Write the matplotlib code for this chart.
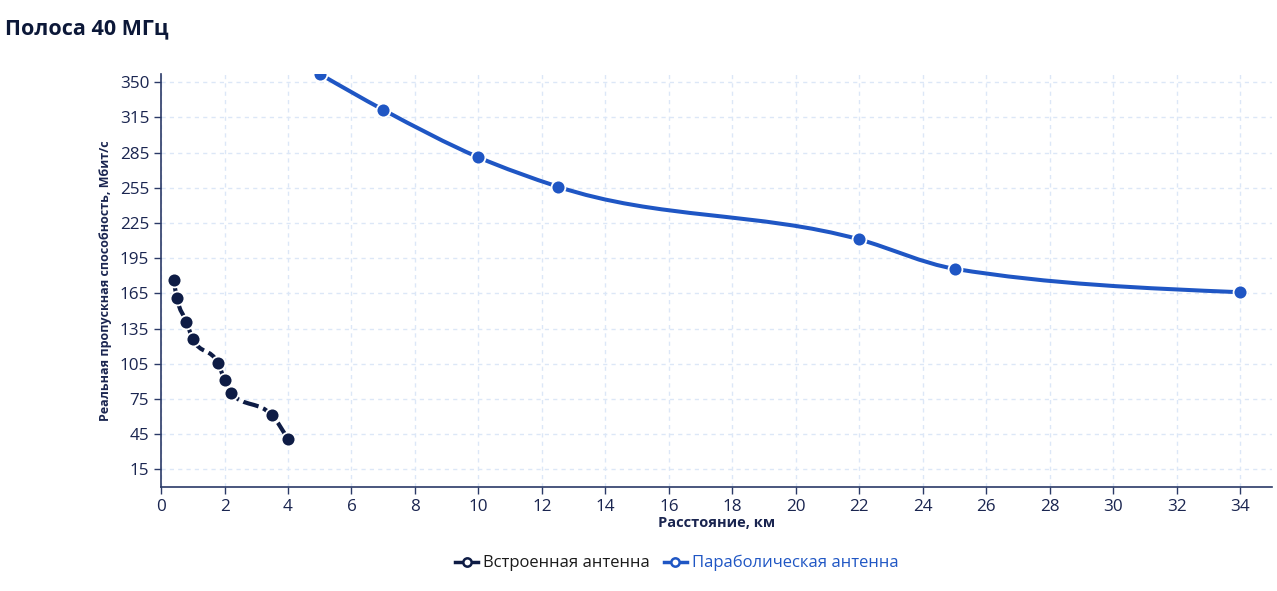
import numpy as np
from matplotlib import pyplot as plt
from matplotlib.path import Path
from matplotlib.patches import PathPatch
from matplotlib.lines import Line2D

plt.rcParams["font.family"] = ["Open Sans", "DejaVu Sans"]

# distances, km
builtin_x = [0.4, 0.5, 0.8, 1.0, 1.8, 2.0, 2.2, 3.5, 4.0]
builtin_y = [176, 161, 141, 126, 105.5, 91, 80, 61, 40.5]

dish_x = [5, 7, 10, 12.5, 22, 25, 34]
dish_y = [352, 321.5, 281, 256, 211, 186, 166]

x_ticks = list(range(0, 35, 2))
y_tick_pos = [15, 45, 75, 105, 135, 165, 195, 225, 255, 285, 315, 345]
y_tick_labels = ["15", "45", "75", "105", "135", "165", "195", "225", "255", "285", "315", "350"]

navy = "#0e1c45"
blue = "#1f56c4"
axis_col = "#2b3a67"


def monotone_path(xs, ys):
    # monotone cubic (like d3 curveMonotoneX), drawn as bezier segments
    x = np.asarray(xs, float)
    y = np.asarray(ys, float)
    n = len(x)
    h = np.diff(x)
    s = np.diff(y) / h
    t = np.zeros(n)
    for i in range(1, n - 1):
        p = (s[i - 1] * h[i] + s[i] * h[i - 1]) / (h[i - 1] + h[i])
        t[i] = (np.sign(s[i - 1]) + np.sign(s[i])) * min(abs(s[i - 1]), abs(s[i]), 0.5 * abs(p))
    t[0] = (3 * s[0] - t[1]) / 2
    t[-1] = (3 * s[-1] - t[-2]) / 2
    verts = [(x[0], y[0])]
    codes = [Path.MOVETO]
    for i in range(n - 1):
        dx = h[i] / 3
        verts += [(x[i] + dx, y[i] + dx * t[i]), (x[i + 1] - dx, y[i + 1] - dx * t[i + 1]),
                  (x[i + 1], y[i + 1])]
        codes += [Path.CURVE4] * 3
    return Path(verts, codes)


fig = plt.figure(figsize=(12.77, 5.91), dpi=100)
ax = fig.add_axes([0.1261, 0.176, 0.8699, 0.6988])

ax.add_patch(PathPatch(monotone_path(builtin_x, builtin_y), fill=False, edgecolor=navy,
                       lw=3, linestyle=(0, (3.8, 1.2)), capstyle="butt", zorder=3))
ax.add_patch(PathPatch(monotone_path(dish_x, dish_y), fill=False, edgecolor=blue,
                       lw=2.9, zorder=3))

ax.plot(builtin_x, builtin_y, "o", color=navy, markersize=10,
        markeredgecolor="white", markeredgewidth=1.3, zorder=4)
ax.plot(dish_x, dish_y, "o", color=blue, markersize=10,
        markeredgecolor="white", markeredgewidth=1.3, zorder=4)

ax.set_xlim(0, 35)
ax.set_ylim(0, 352)
ax.set_xticks(x_ticks)
ax.set_yticks(y_tick_pos)
ax.set_yticklabels(y_tick_labels)

ax.grid(True, color="#dce7f7", linestyle=(0, (3, 3)), linewidth=1)
ax.set_axisbelow(True)
for side in ["top", "right"]:
    ax.spines[side].set_visible(False)
for side in ["left", "bottom"]:
    ax.spines[side].set_color(axis_col)
    ax.spines[side].set_linewidth(1.2)
ax.tick_params(colors=axis_col, labelcolor="#1a2550", labelsize=12.3, length=5, width=1)

ax.set_xlabel("Расстояние, км", fontsize=10.5, fontweight="bold", color="#1a2550", labelpad=1)
ax.set_ylabel("Реальная пропускная способность, Мбит/с", fontsize=9, fontweight="bold",
              color="#1a2550", labelpad=6)

fig.text(0.004, 0.952, "Полоса 40 МГц", fontsize=15.5, fontweight="bold", color="#0c1838",
         ha="left", va="center")

handles = [
    Line2D([], [], color=navy, lw=2.5, marker="o", markersize=6,
           markerfacecolor="white", markeredgecolor=navy, markeredgewidth=1.8),
    Line2D([], [], color=blue, lw=2.5, marker="o", markersize=6,
           markerfacecolor="white", markeredgecolor=blue, markeredgewidth=1.8),
]
leg = fig.legend(handles, ["Встроенная антенна", "Параболическая антенна"],
                 loc="center", bbox_to_anchor=(0.53, 0.047), ncol=2, frameon=False,
                 fontsize=12, handlelength=1.4, handletextpad=0.3, columnspacing=0.8)
leg.get_texts()[0].set_color("#1a1a1a")
leg.get_texts()[1].set_color(blue)

fig.savefig("out.png", dpi=100)
